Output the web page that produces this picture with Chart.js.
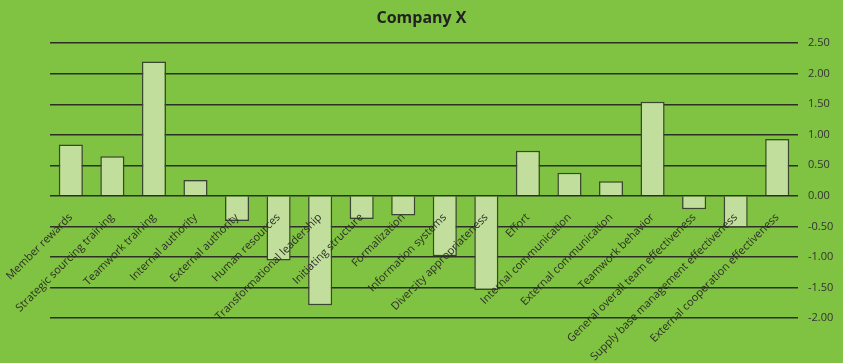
<!DOCTYPE html>
<html>
<head>
<meta charset="utf-8">
<script src="https://cdn.jsdelivr.net/npm/chart.js@4/dist/chart.umd.min.js"></script>
<style>
  html, body { margin: 0; padding: 0; background: #80c242; }
  #wrap { width: 843px; height: 363px; position: relative; }
</style>
</head>
<body>
<div id="wrap"><canvas id="chart"></canvas></div>
<script>
// Company X — factor scores.
const categories = [
    'Member rewards', 'Strategic sourcing training', 'Teamwork training',
    'Internal authority', 'External authority', 'Human resources',
    'Transformational leadership', 'Initiating structure', 'Formalization',
    'Information systems', 'Diversity appropriateness', 'Effort',
    'Internal communication', 'External communication', 'Teamwork behavior',
    'General overall team effectiveness', 'Supply base management effectiveness',
    'External cooperation effectiveness',
];
const scores = [
    0.84, 0.65, 2.20, 0.26, -0.41, -1.06,
    -1.79, -0.38, -0.32, -0.99, -1.54, 0.74,
    0.38, 0.24, 1.54, -0.22, -0.52, 0.93,
];
const yTicks = [2.5, 2.0, 1.5, 1.0, 0.5, 0, -0.5, -1.0, -1.5, -2.0];

const ink = '#2b2f26';

new Chart(document.getElementById('chart'), {
    type: 'bar',
    data: {
        labels: categories,
        datasets: [{
            data: scores,
            backgroundColor: '#c1de9d',
            borderColor: '#3b4632',
            borderWidth: 1.5,
            categoryPercentage: 1,
            barPercentage: 0.58,
        }],
    },
    options: {
        responsive: true, maintainAspectRatio: false, animation: false,
        layout: { padding: { left: 0, right: 0, top: 0, bottom: 45 } },
        plugins: {
            legend: { display: false },
            tooltip: { enabled: false },
            title: {
                display: true, text: 'Company X', color: '#222',
                font: { family: 'Open Sans', size: 16, weight: 'bold' },
                padding: { top: 9, bottom: 15 },
            },
        },
        scales: {
            x: {
                position: { y: 0 },
                grid: { display: false },
                border: { display: false },
                ticks: {
                    z: 1, // labels sit on top of the bars
                    color: ink, autoSkip: false,
                    minRotation: 45, maxRotation: 45, padding: 7,
                    font: { family: 'Open Sans', size: 11 },
                },
            },
            y: {
                position: 'right',
                min: -2, max: 2.5,
                afterBuildTicks: axis => { axis.ticks = yTicks.map(v => ({ value: v })); },
                afterFit: axis => { axis.width = 45; },
                grid: { color: ink, lineWidth: 1.5, drawTicks: false },
                border: { display: false },
                ticks: {
                    color: '#333', padding: 10,
                    font: { family: 'Open Sans', size: 11 },
                    callback: v => v.toFixed(2),
                },
            },
            // empty left gutter so the plot starts at x=50 while the title stays centred
            gutter: {
                axis: 'y', position: 'left',
                grid: { display: false }, border: { display: false },
                ticks: { display: false },
                afterFit: axis => { axis.width = 50; },
            },
        },
    },
});
</script>
</body>
</html>
